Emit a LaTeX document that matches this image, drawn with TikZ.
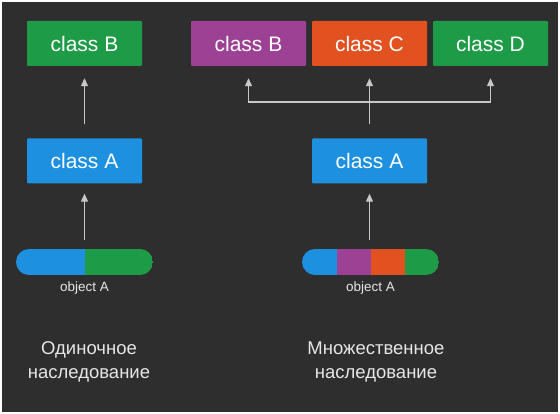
\documentclass[tikz,border=0pt]{standalone}
\usepackage{fontspec}
\setmainfont{Liberation Sans}
\usetikzlibrary{arrows.meta}
\definecolor{bgdark}{HTML}{2E2E2E}
\definecolor{clsgreen}{HTML}{1E9B46}
\definecolor{clsblue}{HTML}{1E90E0}
\definecolor{clspurple}{HTML}{9C4194}
\definecolor{clsorange}{HTML}{E15220}
\definecolor{linegray}{HTML}{C8C8C8}
\definecolor{textgray}{HTML}{E6E6E6}
\newcommand{\seg}[3]{ \fill[#3] ( #1 , 249 ) rectangle ( #2 , 275 );}
\tikzset{
  classbox/.style={minimum width=115pt, minimum height=45pt, inner sep=0pt,
    rounded corners=1pt, text=white, font=\fontsize{21}{25}\selectfont},
  objbar/.style={minimum width=137pt, minimum height=26pt, inner sep=0pt},
  objlabel/.style={text=textgray, font=\fontsize{13.5}{16}\selectfont},
  caption/.style={text=textgray, align=center, font=\fontsize{18.5}{24.5}\selectfont},
  arr/.style={draw=linegray, line width=1.1pt, -{Triangle[width=7pt,length=8pt]}},
  conn/.style={draw=linegray, line width=1.1pt}
}
\begin{document}
\begin{tikzpicture}[x=1pt, y=-1pt]
        \useasboundingbox (0,0) rectangle (560,414);
        \fill[bgdark] (2,2) rectangle (558,412);

        % single inheritance
        \node[classbox, fill=clsgreen] (lb) at (84.5,43.5) {class B};
        \node[classbox, fill=clsblue] (la) at (84.5,161) {class A};
        \begin{scope}
            \clip[rounded corners=13pt] (16,249) rectangle (153,275);
            \seg{16}{85}{clsblue}
            \seg{85}{153}{clsgreen}
        \end{scope}
        \node[objbar] (lobj) at (84.5,262) {};
        \node[objlabel] (lobjtext) at (84.5,288) {object A};
        \node[caption] (lcap) at (89,362) {Одиночное\\наследование};

        \draw[arr, shorten <=14pt, shorten >=12pt] (la.north) -- (lb.south);
        \draw[arr, shorten <=9pt, shorten >=10pt] (lobj.north) -- (la.south);

        % multiple inheritance
        \node[classbox, fill=clspurple] (rb) at (248.5,43.5) {class B};
        \node[classbox, fill=clsorange] (rc) at (369.5,43.5) {class C};
        \node[classbox, fill=clsgreen] (rd) at (490.5,43.5) {class D};
        \node[classbox, fill=clsblue] (ra) at (369.5,161) {class A};
        \begin{scope}
            \clip[rounded corners=13pt] (302,249) rectangle (439,275);
            \seg{302}{337}{clsblue}
            \seg{337}{371}{clspurple}
            \seg{371}{405}{clsorange}
            \seg{405}{439}{clsgreen}
        \end{scope}
        \node[objbar] (robj) at (370.5,262) {};
        \node[objlabel] (robjtext) at (370.5,288) {object A};
        \node[caption] (rcap) at (376,362) {Множественное\\наследование};

        \coordinate (rj) at (369.5,102);
        \draw[arr, shorten <=14pt, shorten >=12pt] (ra.north) -- (rc.south);
        \draw[arr, shorten >=12pt] (rj) -| (rb.south);
        \draw[arr, shorten >=12pt] (rj) -| (rd.south);
        \draw[arr, shorten <=9pt, shorten >=10pt] (ra.south |- robj.north) -- (ra.south);
    \end{tikzpicture}
\end{document}
